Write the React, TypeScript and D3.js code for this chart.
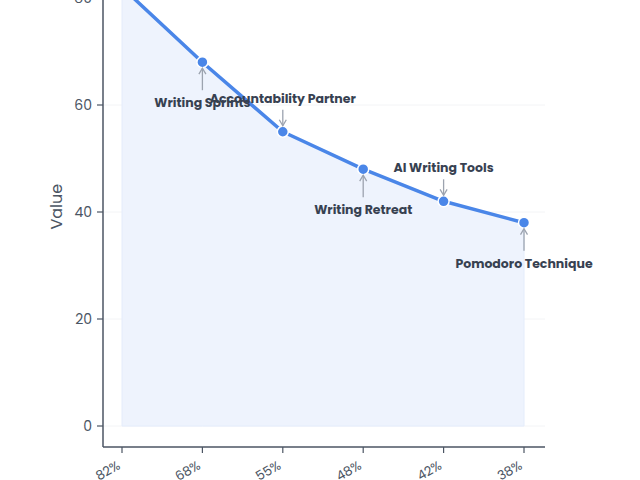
import React from "react";
import * as d3 from "d3";

const categories = ["82%", "68%", "55%", "48%", "42%", "38%"];
const values = [82, 68, 55, 48, 42, 38];
const annotationLabels = ["", "Writing Sprints", "Accountability Partner", "Writing Retreat", "AI Writing Tools", "Pomodoro Technique"];
const annotationSides = ["", "below", "above", "below", "above", "below"];
const yTicks = [0, 20, 40, 60, 80];

export default function App() {
  const W = 640, H = 480;
  const x = d3.scalePoint<string>().domain(categories).range([122, 524]);
  const y = d3.scaleLinear().domain([0, 80]).range([426, -2]);
  const axisX = 103, axisY = 447;
  const lineGen = d3.line<number>().x((_, i) => x(categories[i])!).y(d => y(d));
  const areaGen = d3.area<number>().x((_, i) => x(categories[i])!).y0(y(0)).y1(d => y(d));
  const tickFont = "Poppins, 'Open Sans', sans-serif";
  const labelFont = "Poppins, Inter, sans-serif";
  return (
    <svg width={W} height={H} style={{ position: "absolute", left: 0, top: 0 }}>
      <rect width={W} height={H} fill="#fff" />
      {yTicks.map(t => (
        <line key={"g" + t} x1={axisX} x2={545} y1={y(t)} y2={y(t)} stroke="#f3f4f6" strokeWidth={1} />
      ))}
      <path d={areaGen(values)!} fill="#eef3fd" stroke="#e4ecfb" strokeWidth={1} />
      <path d={lineGen(values)!} fill="none" stroke="#4a86e8" strokeWidth={3.5} strokeLinejoin="round" />
      {values.map((v, i) => (
        <circle key={i} cx={x(categories[i])} cy={y(v)} r={5.5} fill="#4a86e8" stroke="#fff" strokeWidth={1.5} />
      ))}
      {/* y axis */}
      <line x1={axisX} x2={axisX} y1={-10} y2={axisY} stroke="#4b5563" strokeWidth={1.5} />
      {yTicks.map(t => (
        <g key={t} transform={`translate(${axisX},${y(t)})`}>
          <line x1={-6} x2={0} stroke="#4b5563" strokeWidth={1.2} />
          <text x={-11} dy="0.35em" textAnchor="end" fontSize={14} fill="#4b5563" fontFamily={tickFont}>{t}</text>
        </g>
      ))}
      <text transform={`translate(62,${y(41)}) rotate(-90)`} textAnchor="middle" fontSize={16} fill="#4b5563" fontFamily={tickFont}>Value</text>
      {/* x axis */}
      <line x1={axisX} x2={545} y1={axisY} y2={axisY} stroke="#4b5563" strokeWidth={1.5} />
      {categories.map(c => (
        <g key={c} transform={`translate(${x(c)},${axisY})`}>
          <line y1={0} y2={6} stroke="#4b5563" strokeWidth={1.2} />
          <text transform="translate(-1,21) rotate(-30)" textAnchor="end" fontSize={13} fill="#4b5563" fontFamily={tickFont}>{c}</text>
        </g>
      ))}
      {/* annotations */}
      {values.map((v, i) => {
        if (!annotationLabels[i]) return null;
        const cx = x(categories[i])!;
        const cy = y(v);
        const below = annotationSides[i] === "below";
        const tipY = below ? cy + 6 : cy - 6;
        const tailY = below ? cy + 28 : cy - 22;
        const textY = below ? cy + 45 : cy - 29;
        const head = below ? `M${cx - 3.5},${tipY + 6} L${cx},${tipY} L${cx + 3.5},${tipY + 6}` : `M${cx - 3.5},${tipY - 6} L${cx},${tipY} L${cx + 3.5},${tipY - 6}`;
        return (
          <g key={"a" + i}>
            <line x1={cx} x2={cx} y1={tailY} y2={tipY} stroke="#9ca3af" strokeWidth={1.3} />
            <path d={head} fill="none" stroke="#9ca3af" strokeWidth={1.3} />
            <text x={cx} y={textY} textAnchor="middle" fontSize={12.5} fontWeight={700} fill="#374151" fontFamily={labelFont}>{annotationLabels[i]}</text>
          </g>
        );
      })}
    </svg>
  );
}
